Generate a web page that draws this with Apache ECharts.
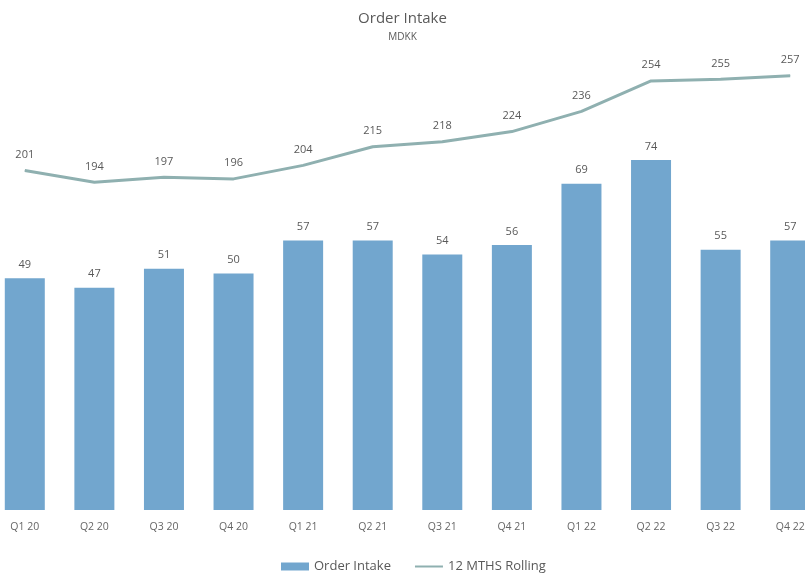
<!DOCTYPE html>
<html>
<head>
<meta charset="utf-8">
<script src="https://cdn.jsdelivr.net/npm/echarts@6/dist/echarts.min.js"></script>
<style>
  html, body { margin: 0; padding: 0; background: #fff; }
  #chart { width: 805px; height: 580px; }
</style>
</head>
<body>
<div id="chart"></div>
<script>
const quarters = ['Q1 20', 'Q2 20', 'Q3 20', 'Q4 20', 'Q1 21', 'Q2 21', 'Q3 21', 'Q4 21', 'Q1 22', 'Q2 22', 'Q3 22', 'Q4 22']
const orderIntake = [49, 47, 51, 50, 57, 57, 54, 56, 69, 74, 55, 57]
const rolling12 = [201, 194, 197, 196, 204, 215, 218, 224, 236, 254, 255, 257]

const chart = echarts.init(document.getElementById('chart'))
const textColor = '#595959'
const lineColor = '#8fb0b0'

chart.setOption({
  animation: false,
  title: {
    text: 'Order Intake',
    subtext: 'MDKK',
    left: 'center',
    top: 6,
    itemGap: 6,
    textStyle: { color: textColor, fontSize: 15, fontWeight: 'normal', fontFamily: 'Open Sans' },
    subtextStyle: { color: textColor, fontSize: 10, fontFamily: 'Open Sans' },
  },
  legend: {
    bottom: 2,
    left: 276,
    itemGap: 24,
    itemWidth: 28,
    itemHeight: 8,
    textStyle: { color: textColor, fontSize: 13, fontFamily: 'Open Sans' },
    data: [
      { name: 'Order Intake', icon: 'rect' },
      { name: '12 MTHS Rolling', icon: 'path://M0,4 L28,4 L28,6 L0,6 Z', itemStyle: { color: lineColor, opacity: 1 } },
    ],
  },
  grid: { left: -10, right: -20, top: 37, bottom: 70, containLabel: false, outerBoundsMode: 'none' },
  xAxis: {
    type: 'category',
    data: quarters,
    axisLine: { show: false },
    axisTick: { show: false },
    axisLabel: { color: '#666', fontSize: 10.5, margin: 12, fontFamily: 'Open Sans' },
  },
  yAxis: [
    { type: 'value', min: 0, max: 100, show: false, splitLine: { show: false } },
    { type: 'value', min: 0, max: 280, show: false, splitLine: { show: false } },
  ],
  series: [
    {
      name: 'Order Intake',
      type: 'bar',
      data: orderIntake,
      barWidth: 40,
      itemStyle: { color: '#72a6ce' },
      label: { show: true, position: 'top', distance: 8, color: textColor, fontSize: 11, fontFamily: 'Open Sans' },
    },
    {
      name: '12 MTHS Rolling',
      type: 'line',
      yAxisIndex: 1,
      data: rolling12,
      symbol: 'circle',
      symbolSize: 0.5,
      showSymbol: true,
      lineStyle: { color: lineColor, width: 3 },
      itemStyle: { color: lineColor },
      label: { show: true, position: 'top', distance: 10, color: textColor, fontSize: 11, fontFamily: 'Open Sans' },
    },
  ],
})
</script>
</body>
</html>
